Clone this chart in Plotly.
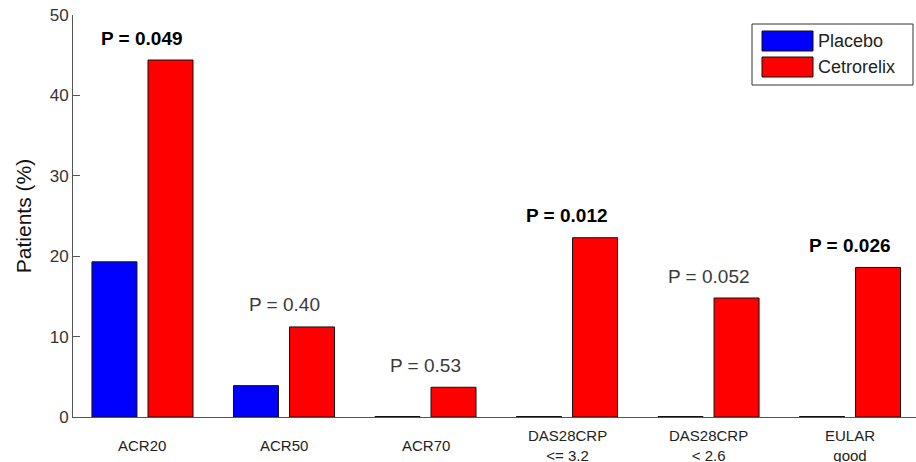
import plotly.graph_objects as go

# ---- data ----
categories = ["ACR20", "ACR50", "ACR70", "DAS28CRP<br><= 3.2", "DAS28CRP<br>< 2.6", "EULAR<br>good"]
placebo = [19.3, 3.9, 0.0, 0.0, 0.0, 0.0]
cetrorelix = [44.4, 11.2, 3.7, 22.3, 14.8, 18.6]
p_values = ["0.049", "0.40", "0.53", "0.012", "0.052", "0.026"]
series_names = ["Placebo", "Cetrorelix"]
series_colors = ["#0000FF", "#FF0000"]
y_ticks = [0, 10, 20, 30, 40, 50]

W, H = 916, 462
ML, MR, MT, MB = 73, 0, 15, 45
PW, PH = W - ML - MR, H - MT - MB

def px_x(px):
    return (px - ML) / PW

def px_y(py):
    return (H - MB - py) / PH

cat_ids = list(range(len(categories)))
# zero-height bars are still drawn as a flat outline, like the original
placebo_draw = [v if v > 0 else 0.06 for v in placebo]

fig = go.Figure()
fig.add_trace(go.Bar(x=cat_ids, y=placebo_draw, name=series_names[0],
                     marker=dict(color=series_colors[0], line=dict(color="#111", width=1)),
                     showlegend=False))
fig.add_trace(go.Bar(x=cat_ids, y=cetrorelix, name=series_names[1],
                     marker=dict(color=series_colors[1], line=dict(color="#111", width=1)),
                     showlegend=False))

annotations = []
for i, (v, p) in enumerate(zip(cetrorelix, p_values)):
    bold = float(p) < 0.05
    txt = f"<b>P = {p}</b>" if bold else f"P = {p}"
    annotations.append(dict(x=i, y=v, xref="x", yref="y", text=txt, showarrow=False,
                            yanchor="middle", xanchor="center", yshift=22,
                            font=dict(family="Liberation Sans, Arial", size=19,
                                      color="#000" if bold else "#3a3a3a")))
for i, c in enumerate(categories):
    annotations.append(dict(x=i, y=0, xref="x", yref="y", text=c, showarrow=False,
                            yanchor="middle", xanchor="center", yshift=-28,
                            font=dict(family="Liberation Sans, Arial", size=15, color="#222")))

# custom MATLAB-style legend
shapes = [dict(type="rect", xref="paper", yref="paper",
               x0=px_x(752), x1=px_x(913), y0=px_y(85), y1=px_y(24),
               line=dict(color="#333", width=1), fillcolor="white", layer="above")]
rows = [(31, 51), (57, 77)]
for (top, bot), name, col in zip(rows, series_names, series_colors):
    shapes.append(dict(type="rect", xref="paper", yref="paper",
                       x0=px_x(762), x1=px_x(813), y0=px_y(bot), y1=px_y(top),
                       line=dict(color="#111", width=1), fillcolor=col, layer="above"))
    annotations.append(dict(x=px_x(816), y=px_y((top + bot) / 2), xref="paper", yref="paper",
                            text=name, showarrow=False, xanchor="left", yanchor="middle",
                            font=dict(family="Liberation Sans, Arial", size=18, color="#222")))

fig.update_layout(
    width=W, height=H,
    margin=dict(l=ML, r=MR, t=MT, b=MB, pad=0),
    plot_bgcolor="white", paper_bgcolor="white",
    barmode="group", bargap=0.208, bargroupgap=0.197,
    showlegend=False,
    annotations=annotations, shapes=shapes,
    xaxis=dict(range=[-0.491, 5.466], showticklabels=False, ticks="",
               showline=True, linecolor="#555", linewidth=1, showgrid=False,
               zeroline=False, fixedrange=True),
    yaxis=dict(range=[0, 50], tickvals=y_ticks, ticks="inside", ticklen=7,
               tickcolor="#555", showline=True, linecolor="#555", linewidth=1,
               showgrid=False, zeroline=False,
               tickfont=dict(family="Liberation Sans, Arial", size=17, color="#333"),
               title=dict(text="Patients (%)", standoff=12,
                          font=dict(family="Liberation Sans, Arial", size=21, color="#111"))),
)

fig.write_html("out.html", config={"displayModeBar": False},
               post_script="document.body.style.margin='0';")
